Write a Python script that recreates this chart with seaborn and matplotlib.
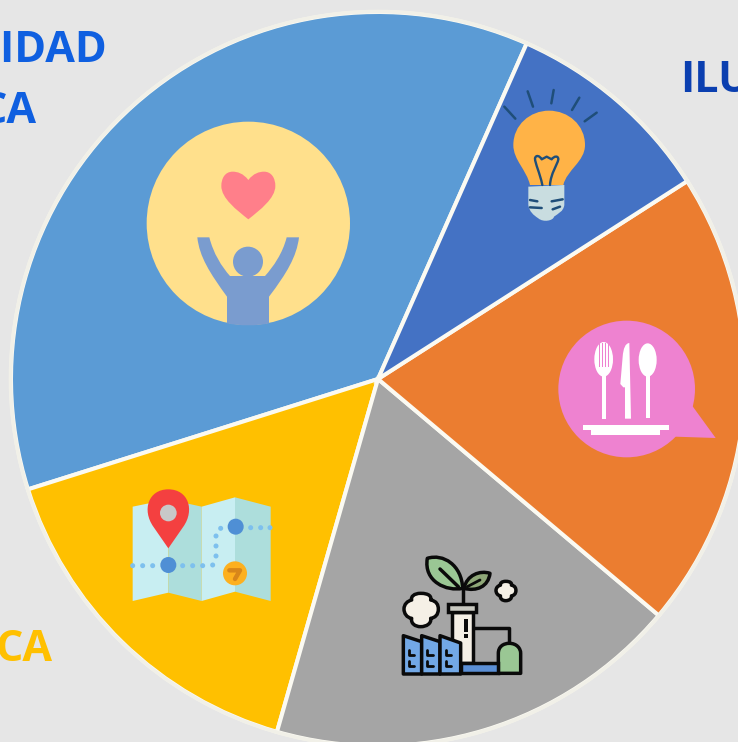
import re
import matplotlib
matplotlib.use("Agg")
import matplotlib.pyplot as plt
from matplotlib.path import Path
from matplotlib.patches import PathPatch, Circle, Ellipse, Polygon, Rectangle
import seaborn as sns

categories = ["Comunidad", "Yellow", "Gray", "Orange", "Iluminacion"]
shares = [36.5, 15.7, 18.3, 20.2, 9.3]
slice_colors = ["#5B9BD5", "#FFC000", "#A5A5A5", "#EB7D30", "#4472C4"]
labels = ["NIDAD", "CA", "ILU", "CA"]

W, H = 738, 742
sns.set_theme(style="white", rc={"figure.facecolor": "#E6E6E6", "axes.facecolor": "#E6E6E6"})
plt.rcParams["font.family"] = ["Open Sans", "DejaVu Sans"]
fig = plt.figure(figsize=(W / 100, H / 100), dpi=100)

ax = fig.add_axes([0, 0, 1, 1])
ax.pie(shares, colors=sns.color_palette(slice_colors), startangle=66.1, counterclock=True,
       center=(378, H - 379), radius=367,
       wedgeprops=dict(edgecolor="#FBFAF2", linewidth=2.9))
ax.add_patch(Circle((378, H - 379), 367.5, fill=False, edgecolor="#F1F0E8", linewidth=2.6, zorder=5))
ax.set_xlim(0, W)
ax.set_ylim(0, H)
ax.set_aspect("auto")
ax.axis("off")

ov = fig.add_axes([0, 0, 1, 1], facecolor="none")
ov.set_xlim(0, W)
ov.set_ylim(H, 0)
ov.axis("off")

CODES = {"M": Path.MOVETO, "L": Path.LINETO, "C": Path.CURVE4}


def make_path(d, x0, y0, s=1 / 3):
    verts, codes = [], []
    for cmd, args in re.findall(r"([MLCZ])([^MLCZ]*)", d):
        nums = [float(v) for v in re.findall(r"-?\d+\.?\d*", args)]
        if cmd == "Z":
            verts.append(verts[-1])
            codes.append(Path.CLOSEPOLY)
            continue
        for i in range(0, len(nums), 2):
            verts.append((x0 + nums[i] * s, y0 + nums[i + 1] * s))
            codes.append(CODES[cmd])
    return Path(verts, codes)


def shape(d, o, fc="none", ec="none", lw=0, z=3, s=1 / 3):
    ov.add_patch(PathPatch(make_path(d, o[0], o[1], s), facecolor=fc, edgecolor=ec, linewidth=lw,
                           zorder=z, capstyle="round", joinstyle="round"))


def circ(x, y, r, o, fc, ec="none", lw=0, z=3):
    ov.add_patch(Circle((o[0] + x / 3, o[1] + y / 3), r / 3, facecolor=fc, edgecolor=ec, linewidth=lw, zorder=z))


def rect(x1, y1, x2, y2, o, fc, ec="none", lw=0, z=3):
    ov.add_patch(Rectangle((o[0] + x1 / 3, o[1] + y1 / 3), (x2 - x1) / 3, (y2 - y1) / 3,
                           facecolor=fc, edgecolor=ec, linewidth=lw, zorder=z))


# --- community icon
o = (130, 110)
circ(355, 340, 305, o, "#FFE08C")
shape("M355,210 C340,190 322,185 308,185 C285,185 274,205 274,228 C274,265 320,300 355,328 "
      "C390,300 436,265 436,228 C436,205 425,185 402,185 C388,185 370,190 355,210 Z", o, fc="#FF7F8A", z=4)
person = "#7A9CCF"
circ(354, 455, 45, o, person, z=4)
shape("M202,382 L238,382 C250,430 275,470 300,498 L405,498 C430,470 458,430 470,382 L507,382 "
      "C500,440 470,490 417,560 L417,640 C380,648 330,648 291,640 L291,560 C240,490 208,440 202,382 Z",
      o, fc=person, z=4)

# --- light bulb icon
o = (480, 30)
shape("M150,465 C140,420 100,390 100,345 C100,285 150,242 207,242 C265,242 315,285 315,345 "
      "C315,395 260,420 250,465 Z", o, fc="#FFB347", z=4)
shape("M145,470 L253,465 L253,525 C250,545 235,550 222,560 C220,572 190,578 175,565 "
      "C160,555 148,545 145,525 Z", o, fc="#C9DDE0", z=4)
ink = "#1F4E79"
shape("M187,465 C180,430 165,400 165,385 C168,373 180,378 185,388 L200,380 L215,388 "
      "C222,378 235,376 235,388 C232,405 212,430 210,465", o, ec=ink, lw=1.7, z=5)
for seg in ["M73,230 L106,266", "M143,184 L159,230", "M221,180 L214,220", "M298,203 L276,240",
            "M350,248 L314,274", "M150,510 L172,514", "M150,532 L185,534", "M215,514 L248,508",
            "M218,538 L240,530"]:
    shape(seg, o, ec=ink, lw=1.8, z=5)

# --- cutlery icon
o = (540, 310)
pink = "#EE82D0"
circ(260, 237, 205, o, pink, z=4)
ov.add_patch(Polygon([(o[0] + 455 / 3, o[1] + 285 / 3), (o[0] + 527 / 3, o[1] + 384 / 3), (o[0] + 405 / 3, o[1] + 380 / 3)],
                     facecolor=pink, edgecolor="none", zorder=4))
ov.add_patch(Ellipse((o[0] + 191 / 3, o[1] + 148 / 3), 56 / 3, 104 / 3, facecolor="white", edgecolor="none", zorder=5))
for xs in [178, 187, 196, 205]:
    rect(xs - 1.5, 98, xs + 1.5, 172, o, pink, z=6)
rect(185, 192, 197, 326, o, "white", z=5)
shape("M268,99 C256,100 250,115 248,140 L241,222 L250,232 L255,232 L255,326 L273,326 Z", o, fc="white", z=5)
ov.add_patch(Ellipse((o[0] + 323 / 3, o[1] + 150 / 3), 54 / 3, 100 / 3, facecolor="white", edgecolor="none", zorder=5))
rect(317, 195, 329, 324, o, "white", z=5)
rect(129, 346, 386, 360, o, "white", z=5)
rect(154, 360, 360, 374, o, "white", z=5)

# --- factory icon
o = (390, 545)
blk = "#0A0A0A"
olw = 2.5
cream = "#F5F0E6"
green = "#9AC794"
shape("M112,40 C160,25 215,60 218,130 C170,140 100,110 112,40 Z", o, fc=green, ec=blk, lw=olw, z=5)
shape("M222,130 C230,90 270,75 300,85 C295,125 260,140 222,130 Z", o, fc="#8FA878", ec=blk, lw=olw, z=5)
shape("M150,72 L205,125", o, ec=blk, lw=olw, z=6)
shape("M232,125 L270,105", o, ec=blk, lw=olw * 0.8, z=6)
shape("M218,130 L218,178", o, ec=blk, lw=olw, z=5)
shape("M248,250 L358,250 L358,295", o, ec=blk, lw=olw, z=5)
rect(185, 202, 248, 355, o, cream, ec=blk, lw=olw, z=5)
rect(175, 178, 258, 202, o, "#C8C8C0", ec=blk, lw=olw, z=6)
rect(222, 222, 233, 262, o, blk, z=7)
rect(222, 267, 233, 278, o, blk, z=7)
shape("M325,385 L325,325 C325,305 340,295 358,295 C380,295 392,310 392,325 L392,385 Z", o,
      fc=green, ec=blk, lw=olw, z=5)
rect(212, 355, 325, 385, o, "#5B8FD5", ec=blk, lw=olw, z=5)
for xa, xb, dy in [(40, 95, 18), (95, 150, 18), (150, 212, 22)]:
    shape(f"M{xa},272 L{xb},{272 + dy} L{xb},387 L{xa},387 Z", o, fc="#72A8E6", ec=blk, lw=olw, z=6)
    for wy in (322, 355):
        shape(f"M{xa + 17},{wy - 6} L{xa + 17},{wy + 8} L{xa + 33},{wy + 8}", o, ec=blk, lw=2.0, z=7)
cloud = ("M92,145 C118,145 125,155 122,165 C140,168 145,180 145,192 C145,210 135,218 122,220 "
         "C125,235 110,245 92,245 C75,245 62,235 65,220 C50,218 42,205 42,192 C42,178 52,168 65,165 "
         "C62,155 72,145 92,145 Z")
shape(cloud, o, fc=cream, ec=blk, lw=olw, z=5)
shape(cloud, (o[0] + (347 - 92 * 0.58) / 3, o[1] + (138 - 195 * 0.58) / 3), fc=cream, ec=blk, lw=olw, z=5, s=0.58 / 3)

# --- map icon
o = (120, 480)
light, dark = "#C8EEF2", "#ADDEDC"
for pts, col in [(((38, 80), (145, 58), (145, 338), (38, 363)), light),
                 (((145, 58), (245, 80), (245, 363), (145, 338)), dark),
                 (((245, 80), (345, 52), (345, 335), (245, 363)), light),
                 (((345, 52), (452, 80), (452, 363), (345, 335)), dark)]:
    ov.add_patch(Polygon([(o[0] + a / 3, o[1] + b / 3) for a, b in pts], facecolor=col, edgecolor="none", zorder=4))
for dx, dy in [(38, 257), (68, 257), (98, 257), (188, 257), (218, 257), (248, 257), (278, 255), (288, 228),
               (288, 198), (288, 168), (302, 145), (392, 143), (422, 143), (450, 143)]:
    circ(dx, dy, 7.5, o, "#7DC0EE", z=5)
circ(145, 255, 24, o, "#4F8FD5", z=6)
circ(347, 140, 24, o, "#4F8FD5", z=6)
circ(345, 280, 36, o, "#FDB01F", z=5)
shape("M328,271 L360,271 L345,297", o, ec="#D8861A", lw=3.2, z=6)
shape("M145,205 L100,140 C65,90 85,28 145,28 C205,28 225,90 190,140 Z", o, fc="#F44040", z=7)
circ(145, 99, 25, o, "#C8C8C8", z=8)

# --- clipped labels
txt = dict(fontweight="bold", fontsize=31, va="baseline", clip_on=True, zorder=10)
ov.text(107, 62, labels[0], ha="right", color="#0F5FE0", **txt)
ov.text(36, 123, labels[1], ha="right", color="#0F5FE0", **txt)
ov.text(680, 92, labels[2], ha="left", color="#0B3FB0", **txt)
ov.text(52, 661, labels[3], ha="right", color="#FFC000", **txt)

fig.savefig("out.png", dpi=100, facecolor=fig.get_facecolor())
